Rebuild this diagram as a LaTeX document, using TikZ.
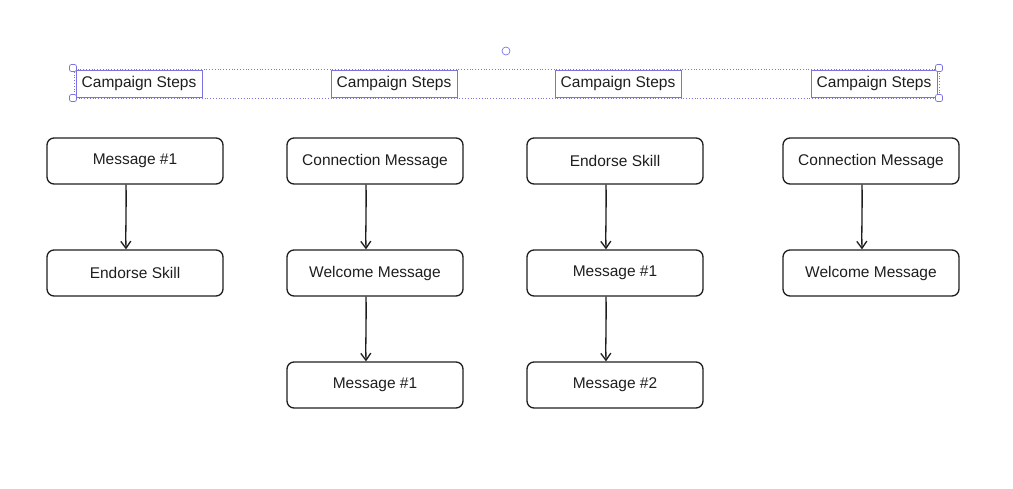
\documentclass[tikz,border=0pt]{standalone}
\usepackage{fontspec}
\setmainfont{Liberation Sans}
\usetikzlibrary{arrows.meta}
\definecolor{sel}{HTML}{7B74E0}
\definecolor{ink}{HTML}{1E1E1E}
\begin{document}
\begin{tikzpicture}[x=1pt,y=-1pt,
  msg/.style={draw=ink,line width=1.3pt,rounded corners=7pt,minimum width=176pt,minimum height=46pt,inner sep=0pt,font=\fontsize{15.5}{18}\selectfont,text=ink},
  lbl/.style={draw=sel,line width=0.8pt,minimum width=126pt,minimum height=27pt,inner sep=0pt,font=\fontsize{15.5}{18}\selectfont,text=ink},
  handle/.style={draw=sel,fill=white,line width=0.7pt,rounded corners=2pt,minimum size=7pt,inner sep=0pt},
  arr/.style={draw=ink,line width=1.3pt,-{Straight Barb[length=7pt,width=10pt]}}]
\useasboundingbox (0,0) rectangle (1013,489);
\draw[sel,line width=0.8pt,dotted] (74,69) rectangle (939,98);
\node[lbl] (l1) at (139,83.5) {Campaign Steps};
\node[lbl] (l2) at (394,83.5) {Campaign Steps};
\node[lbl] (l3) at (618,83.5) {Campaign Steps};
\node[lbl] (l4) at (874,83.5) {Campaign Steps};
\foreach \p/\q [count=\i] in {73/68,939/68,73/98,939/98} \node[handle] (h\i) at (\p,\q) {};
\node[draw=sel,circle,line width=0.7pt,minimum size=8pt,inner sep=0pt] (rot) at (506,51) {};
\node[msg] (a1) at (135,161) {Message \#1};
\node[msg] (a2) at (135,273) {Endorse Skill};
\node[msg] (b1) at (375,161) {Connection Message};
\node[msg] (b2) at (375,273) {Welcome Message};
\node[msg] (b3) at (375,385) {Message \#1};
\node[msg] (c1) at (615,161) {Endorse Skill};
\node[msg] (c2) at (615,273) {Message \#1};
\node[msg] (c3) at (615,385) {Message \#2};
\node[msg] (d1) at (871,161) {Connection Message};
\node[msg] (d2) at (871,273) {Welcome Message};
\foreach \u/\v in {a1/a2,b1/b2,b2/b3,c1/c2,c2/c3,d1/d2}
  \draw[arr] ([xshift=-9pt]\u.south) .. controls +(0.5,20) and +(-0.5,-20) .. ([xshift=-9pt]\v.north);
\end{tikzpicture}
\end{document}
